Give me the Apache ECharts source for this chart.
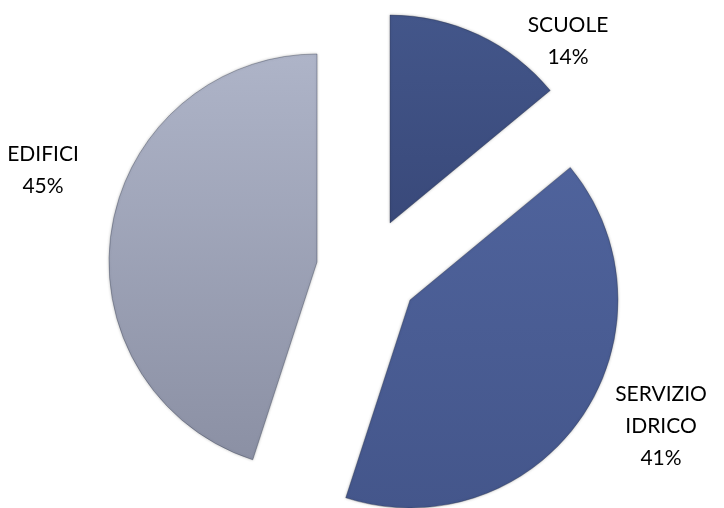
<!DOCTYPE html>
<html>
<head>
<meta charset="utf-8">
<script src="https://cdn.jsdelivr.net/npm/echarts@6/dist/echarts.min.js"></script>
<style>
  html, body { margin: 0; padding: 0; background: #ffffff; }
  #chart { width: 724px; height: 508px; }
</style>
</head>
<body>
<div id="chart"></div>
<script>
// Share of spending by sector
const categories = ['SCUOLE', 'SERVIZIO IDRICO', 'EDIFICI'];
const values = [14, 41, 45];

// Visual styling per slice
const topColors = ['#43568a', '#4f639c', '#aeb4c8'];
const bottomColors = ['#39497a', '#44568b', '#8b90a4'];
const centers = [[390, 223], [410, 300], [317, 262]];
const labelPos = [[568, 41], [661, 426], [43, 170]];

const chart = echarts.init(document.getElementById('chart'), null, { renderer: 'canvas' });

function gradient(i) {
  return new echarts.graphic.LinearGradient(0, 0, 0, 1, [
    { offset: 0, color: topColors[i] },
    { offset: 1, color: bottomColors[i] }
  ]);
}

// One series per slice so each wedge can be pulled out on its own vector;
// every series carries the full data so the angles stay consistent.
const series = categories.map((_, s) => ({
  type: 'pie',
  radius: 208,
  center: centers[s],
  startAngle: 90,
  clockwise: true,
  animation: false,
  silent: true,
  data: categories.map((name, i) => ({
    name: name,
    value: values[i],
    itemStyle: i === s
      ? {
          color: gradient(i),
          borderColor: 'rgba(40,48,70,0.35)',
          borderWidth: 1,
          shadowBlur: 3,
          shadowColor: 'rgba(0,0,0,0.25)'
        }
      : { color: 'rgba(0,0,0,0)', borderWidth: 0 },
    label: { show: i === s },
    labelLine: { show: false }
  })),
  label: {
    position: 'inside',
    formatter: p => p.name.replace(' ', '\n') + '\n' + Math.round(p.percent) + '%',
    fontFamily: 'Lato, "Open Sans", sans-serif',
    fontSize: 21,
    lineHeight: 32,
    color: '#000000',
    align: 'center',
    overflow: 'none'
  },
  labelLine: { show: false },
  labelLayout: p => ({
    x: labelPos[s][0],
    y: labelPos[s][1],
    align: 'center',
    verticalAlign: 'middle'
  })
}));

chart.setOption({
  backgroundColor: '#ffffff',
  series: series
});
</script>
</body>
</html>
